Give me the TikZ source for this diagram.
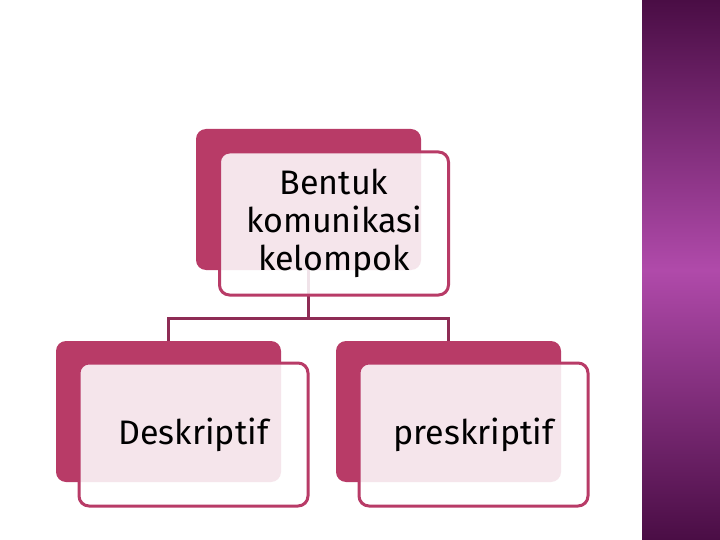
\documentclass[tikz,border=0pt]{standalone}
\usepackage{fontspec}
\setmainfont{Fira Sans}
\usetikzlibrary{positioning}
\definecolor{cpink}{HTML}{B83B67}
\definecolor{clink}{HTML}{8E2C55}
\definecolor{cdark}{HTML}{4A0D45}
\definecolor{cmag}{HTML}{B04AAA}
\tikzset{
  every picture/.style={font=\fontsize{34}{38}\selectfont},
  backbox/.style={fill=cpink, rounded corners=10pt, minimum width=225pt, minimum height=141pt, inner sep=0pt},
  frontbox/.style={draw=cpink, line width=3pt, fill=white, fill opacity=0.87, text opacity=1,
    rounded corners=10pt, minimum width=229pt, minimum height=143pt, align=center, inner sep=0pt},
  link/.style={draw=clink, line width=3pt},
}

\begin{document}
\begin{tikzpicture}[x=1pt, y=-1pt]
  \useasboundingbox (0,0) rectangle (720,540);
  % side strip
  \shade[top color=cdark, bottom color=cmag] (642,0) rectangle (720,270);
  \shade[top color=cmag, bottom color=cdark] (642,270) rectangle (720,540);
  % back boxes
  \node[backbox] (tb) at (308.5,199.5) {};
  \node[backbox] (lb) at (168.5,411.5) {};
  \node[backbox] (rb) at (448.5,411.5) {};
  % connectors
  \coordinate (mid) at (308.5,318);
  \draw[link] (tb.south) -- (mid) -| (lb.north);
  \draw[link] (mid) -| (rb.north);
  % front boxes
  \node[frontbox] (top) at (334,223.5) {Bentuk\\komunikasi\\kelompok};
  \node[frontbox] (left) at (193.5,434.5) {Deskriptif};
  \node[frontbox] (right) at (473.5,434.5) {preskriptif};
\end{tikzpicture}
\end{document}
